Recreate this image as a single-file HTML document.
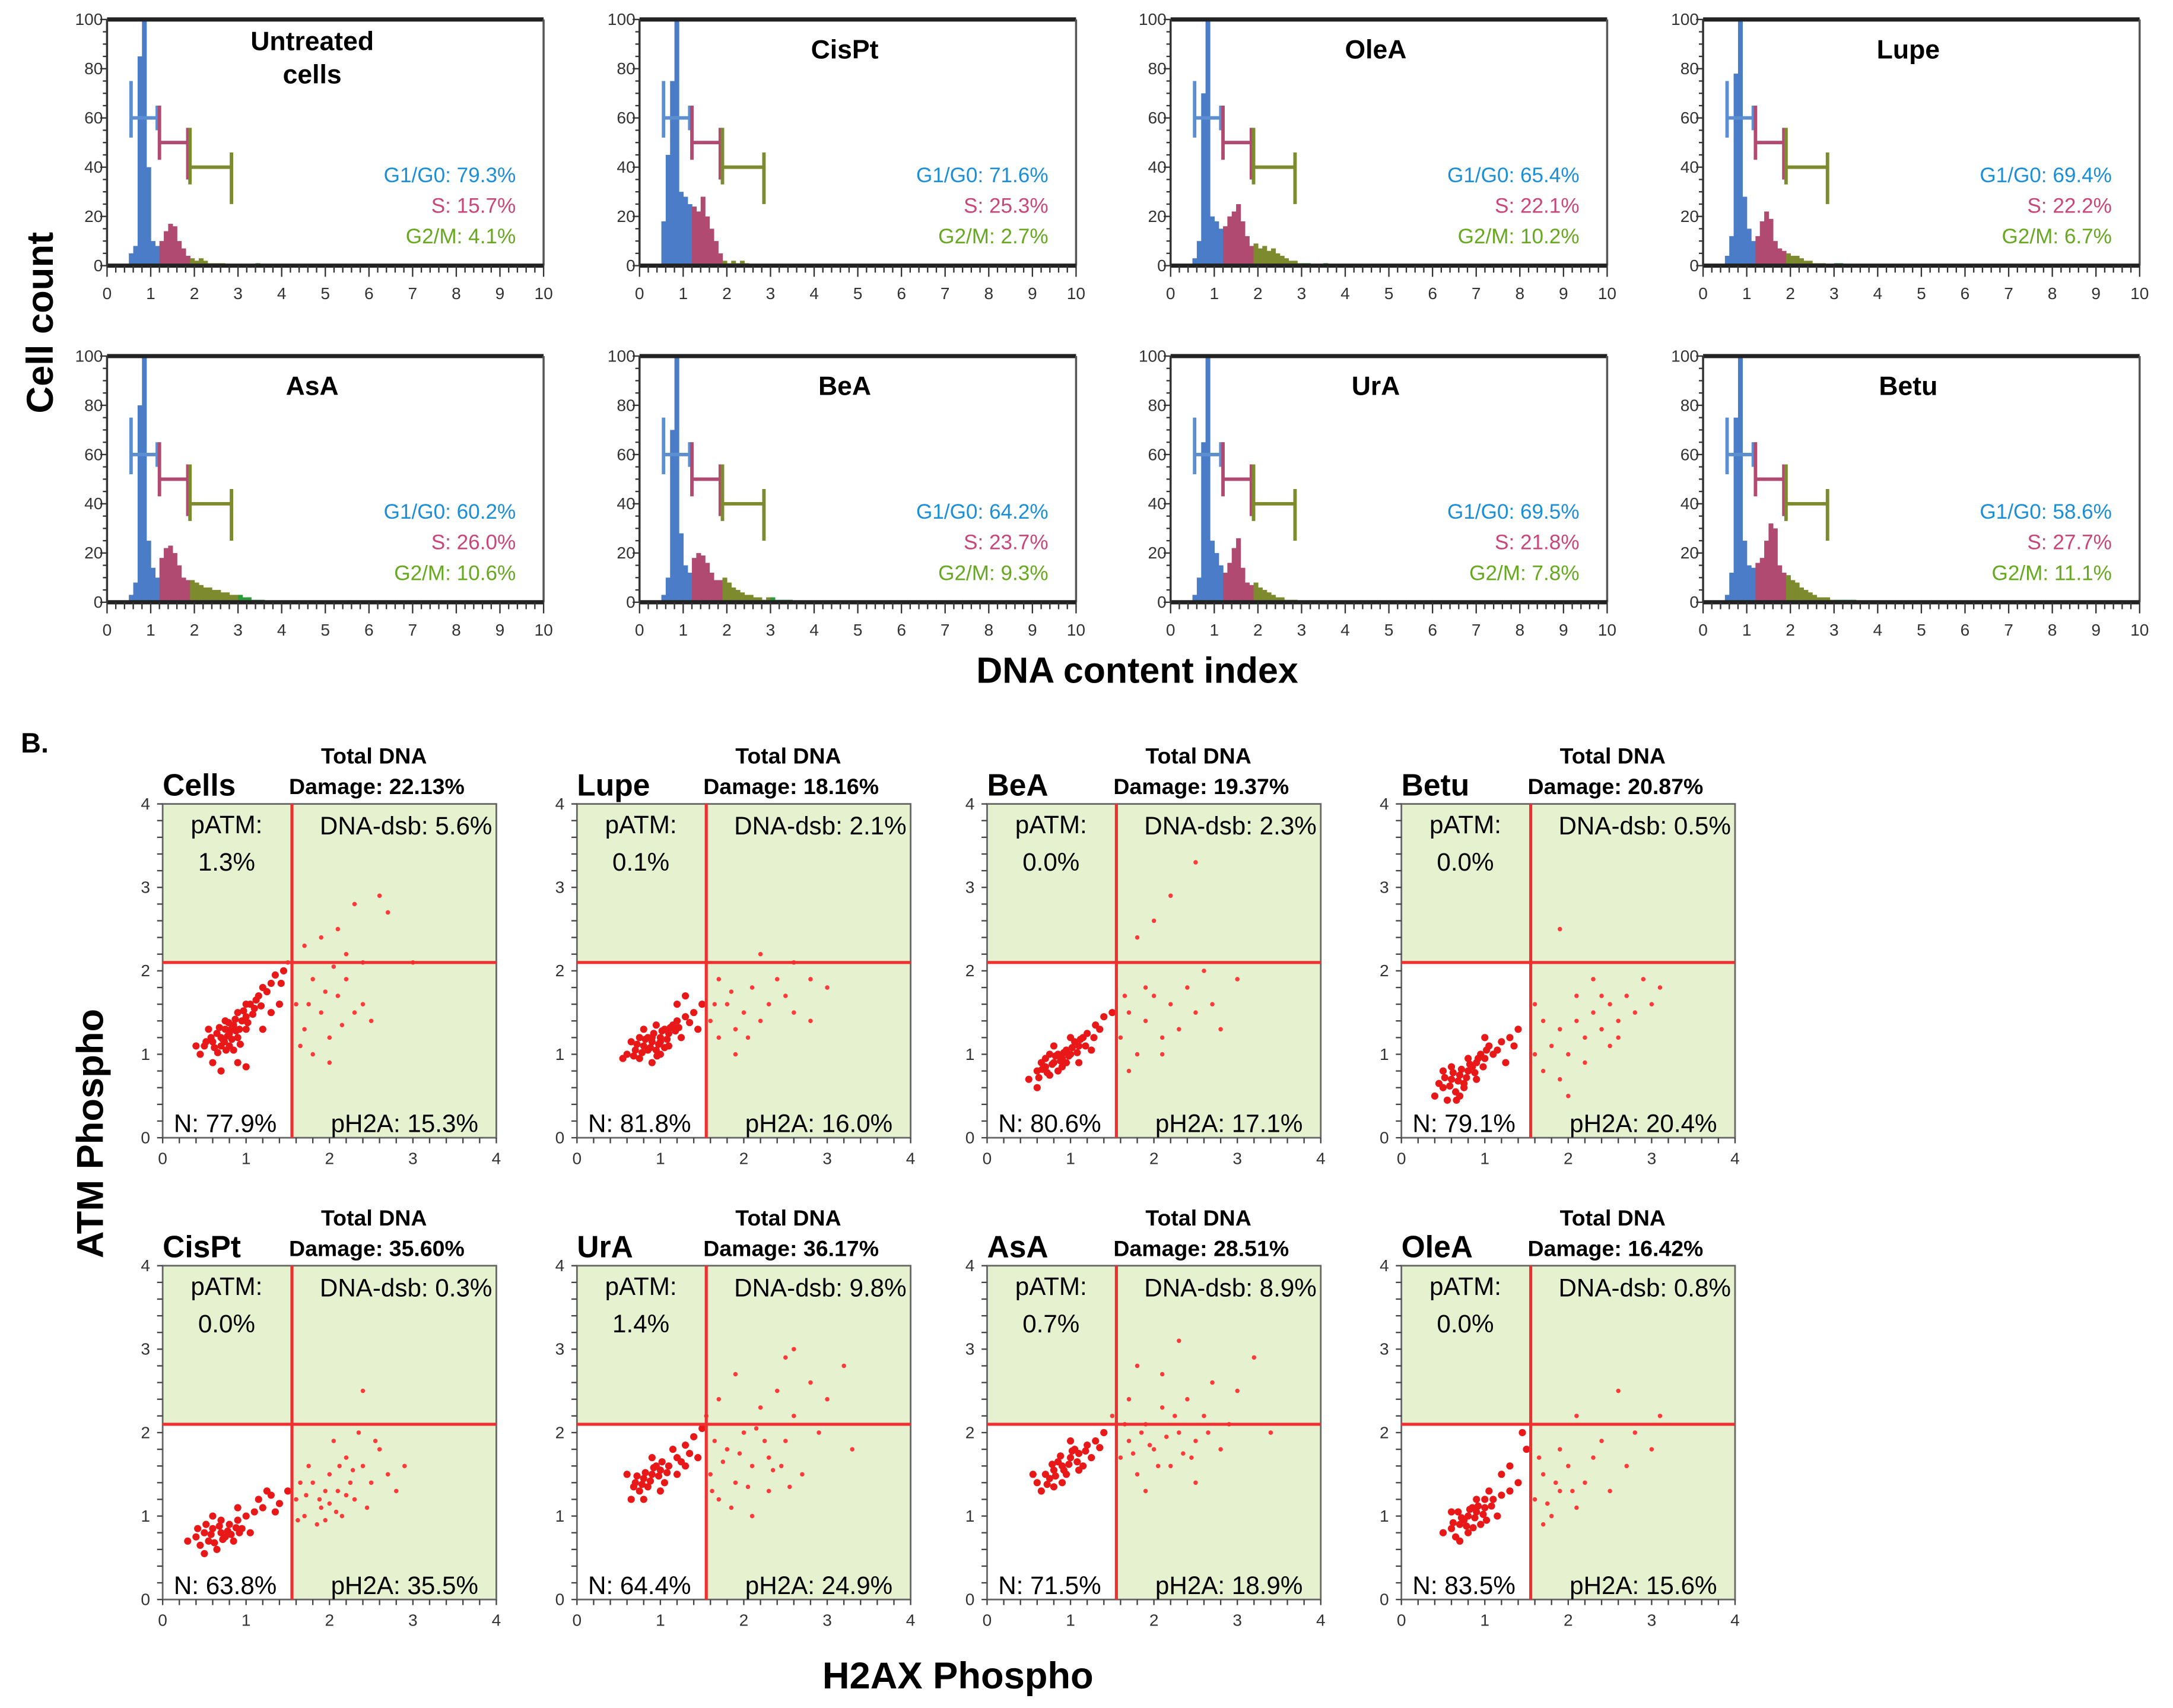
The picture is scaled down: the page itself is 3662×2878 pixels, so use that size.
<!DOCTYPE html>
<html><head><meta charset="utf-8"><style>
html,body{margin:0;padding:0;background:#fff}
svg{display:block}
text{font-family:"Liberation Sans",sans-serif}
.b{font-family:"Liberation Sans",sans-serif;font-weight:bold}
</style></head><body>
<svg id="fig" xmlns="http://www.w3.org/2000/svg" width="3662" height="2878" viewBox="0 0 1563 1228" preserveAspectRatio="none">
<text class="b" x="38" y="232" font-size="27" text-anchor="middle" transform="rotate(-90 38 232)">Cell count</text>
<text class="b" x="818" y="491" font-size="26" text-anchor="middle">DNA content index</text>
<text class="b" x="15" y="541" font-size="20">B.</text>
<text class="b" x="74" y="815" font-size="27" text-anchor="middle" transform="rotate(-90 74 815)">ATM Phospho</text>
<text class="b" x="689" y="1214" font-size="27" text-anchor="middle">H2AX Phospho</text>
<g id="hists"></g><g id="scat"></g>
</svg>
<script>
// ---------- Histogram data (bins start at 0.5, width 0.1) ----------
const histNames = ["Untreated cells","CisPt","OleA","Lupe","AsA","BeA","UrA","Betu"];
const histG1 = ["79.3%","71.6%","65.4%","69.4%","60.2%","64.2%","69.5%","58.6%"];
const histS = ["15.7%","25.3%","22.1%","22.2%","26.0%","23.7%","21.8%","27.7%"];
const histG2 = ["4.1%","2.7%","10.2%","6.7%","10.6%","9.3%","7.8%","11.1%"];
const countsUntreated = [5,8,85,100,40,10,8,10,14,17,16,10,7,4,3,2,3,2,1,1,1,1,0,0,0,0,0,0,0,1];
const countsCisPt = [18,45,75,100,30,28,25,24,22,28,20,15,10,5,2,1,2,1,2,1];
const countsOleA = [3,10,70,100,20,18,15,16,20,22,25,18,12,8,9,7,8,6,7,5,4,3,2,2,1,1,1,0,0,0,1];
const countsLupe = [4,12,78,100,28,15,10,12,18,22,19,10,7,6,5,4,4,3,2,2,1,1,1,0,0,1,1];
const countsAsA = [3,8,80,100,25,14,10,18,22,23,20,15,10,9,9,8,7,6,6,5,5,4,4,3,3,3,2,2,1,1,1];
const countsBeA = [3,10,70,100,28,15,12,18,20,19,16,12,9,9,10,8,6,5,4,3,3,2,2,1,2,2,1,1,1,1];
const countsUrA = [3,10,65,100,25,20,15,12,16,22,26,14,8,7,8,6,5,4,3,2,2,1,1,1];
const countsBetu = [3,12,75,100,25,15,14,16,18,25,32,30,15,12,11,9,8,6,5,4,3,2,2,2,1,1,1,1,1,1];
const histCounts = [countsUntreated,countsCisPt,countsOleA,countsLupe,countsAsA,countsBeA,countsUrA,countsBetu];
const xTicks = [0,1,2,3,4,5,6,7,8,9,10];
const yTicks = [0,20,40,60,80,100];

// ---------- Scatter data ----------
const scNames = ["Cells","Lupe","BeA","Betu","CisPt","UrA","AsA","OleA"];
const scTotal = ["22.13%","18.16%","19.37%","20.87%","35.60%","36.17%","28.51%","16.42%"];
const scPATM = ["1.3%","0.1%","0.0%","0.0%","0.0%","1.4%","0.7%","0.0%"];
const scDsb = ["5.6%","2.1%","2.3%","0.5%","0.3%","9.8%","8.9%","0.8%"];
const scN = ["77.9%","81.8%","80.6%","79.1%","63.8%","64.4%","71.5%","83.5%"];
const scPH2A = ["15.3%","16.0%","17.1%","20.4%","35.5%","24.9%","18.9%","15.6%"];
const ptsCells = "0.5,1.1 0.6,1.15 0.7,1.2 0.75,1.3 0.8,1.25 0.85,1.35 0.9,1.2 0.95,1.4 0.7,1.1 0.65,1.25 0.8,1.1 0.9,1.5 1.0,1.45 1.05,1.6 1.1,1.55 1.15,1.7 1.2,1.8 1.3,1.85 1.35,1.95 1.45,2.0 1.5,2.1 0.4,1.1 0.45,1.0 0.6,0.9 0.7,0.8 0.9,0.9 1.0,0.85 1.2,1.3 1.3,1.5 1.4,1.6 0.55,1.3 0.85,1.05 0.75,1.4 1.0,1.3 0.78,1.22 0.82,1.3 0.72,1.18 0.88,1.28 0.62,1.08 0.68,1.32 0.74,1.15 0.79,1.38 0.83,1.18 0.87,1.42 0.92,1.3 0.97,1.52 1.02,1.38 1.08,1.48 1.12,1.65 0.58,1.2 0.66,1.02 0.52,1.15 0.76,1.05 0.93,1.12 1.0,1.6 1.18,1.58 1.25,1.75 1.42,1.85 1.6,1.6 1.7,1.3 1.8,1.9 1.9,1.5 2.0,1.2 2.1,1.7 2.2,1.9 2.3,1.5 2.4,1.6 2.5,1.4 1.7,2.3 1.9,2.4 2.1,2.5 2.3,2.8 2.6,2.9 2.7,2.7 1.8,1.0 2.0,0.9 2.2,2.2 2.4,2.1 1.65,1.1 2.05,2.05 3.0,2.1 1.75,1.6 1.95,1.75 2.15,1.35";
const ptsLupe = "0.6,1.0 0.7,1.05 0.8,1.1 0.9,1.15 1.0,1.2 1.1,1.25 0.85,1.2 0.95,1.05 1.05,1.3 1.15,1.35 1.2,1.4 1.3,1.45 1.4,1.5 1.5,1.6 0.75,0.95 0.65,1.15 0.9,0.9 1.0,1.0 1.1,1.1 1.25,1.2 0.55,0.95 0.8,1.3 0.95,1.35 1.2,1.6 1.3,1.7 1.45,1.3 0.9,1.2 1.0,1.15 0.85,1.05 0.72,1.12 0.78,1.02 0.82,1.18 0.88,1.08 0.92,1.25 0.98,1.12 1.02,1.28 1.08,1.18 1.12,1.32 1.18,1.28 0.68,0.98 0.75,1.2 0.96,0.98 1.05,1.08 1.22,1.32 1.35,1.38 1.6,1.4 1.7,1.2 1.8,1.6 1.9,1.3 2.0,1.5 2.1,1.8 2.2,1.4 2.3,1.6 2.4,1.9 2.5,1.7 2.6,1.5 2.8,1.9 3.0,1.8 1.7,1.9 1.9,1.0 2.2,2.2 2.6,2.1 2.8,1.4 1.65,1.6 1.85,1.75 2.05,1.2";
const ptsBeA = "0.5,0.7 0.6,0.8 0.7,0.85 0.8,0.9 0.9,0.95 1.0,1.0 1.1,1.1 0.75,0.75 0.85,0.8 0.95,1.05 1.05,1.15 1.15,1.2 1.2,1.25 1.3,1.35 1.4,1.45 1.5,1.5 0.65,0.9 0.9,0.85 1.0,1.2 1.1,0.9 0.6,0.6 0.8,1.1 1.25,1.05 1.35,1.3 0.7,0.95 0.85,1.0 0.95,0.9 0.72,0.78 0.78,0.88 0.82,0.98 0.88,0.92 0.92,1.02 0.98,0.98 1.02,1.08 1.08,1.02 1.12,1.18 0.66,0.82 0.62,0.72 0.75,1.0 1.18,1.1 1.28,1.2 1.6,1.2 1.7,1.5 1.8,1.0 1.9,1.4 2.0,1.7 2.1,1.2 2.2,1.6 2.3,1.3 2.4,1.8 2.5,1.5 2.7,1.6 3.0,1.9 1.8,2.4 2.0,2.6 2.2,2.9 2.5,3.3 1.7,0.8 1.9,1.8 2.1,1.0 2.6,2.0 2.8,1.3 1.65,1.7";
const ptsBetu = "0.4,0.5 0.5,0.6 0.6,0.7 0.7,0.75 0.8,0.8 0.9,0.9 1.0,0.95 1.1,1.0 0.55,0.45 0.65,0.55 0.75,0.65 0.85,0.85 0.95,1.0 1.05,1.1 1.2,1.15 1.3,1.2 1.4,1.3 0.6,0.85 0.7,0.5 0.8,0.95 0.9,0.7 1.0,1.2 0.5,0.8 0.75,0.6 1.25,0.9 0.58,0.62 0.62,0.78 0.68,0.68 0.72,0.82 0.78,0.72 0.82,0.88 0.88,0.78 0.92,0.95 0.98,0.85 1.02,1.05 0.45,0.65 0.52,0.72 0.66,0.45 1.15,1.05 1.35,1.1 1.6,1.0 1.7,0.8 1.8,1.1 1.9,1.3 2.0,1.0 2.1,1.4 2.2,1.2 2.3,1.5 2.4,1.3 2.5,1.6 2.6,1.4 2.7,1.7 2.8,1.5 2.9,1.9 3.0,1.6 3.1,1.8 1.7,1.4 1.9,0.7 2.1,1.7 2.3,1.9 2.5,1.1 1.6,1.6 1.9,2.5 2.0,0.5 2.2,0.9 2.6,1.2 2.4,1.7";
const ptsCisPt = "0.3,0.7 0.4,0.75 0.5,0.8 0.6,0.85 0.7,0.8 0.8,0.9 0.9,0.95 1.0,1.0 1.1,1.05 1.2,1.1 0.45,0.65 0.55,0.7 0.65,0.6 0.75,0.75 0.85,0.7 0.95,0.85 1.05,0.8 1.15,1.2 1.3,1.25 1.4,1.15 0.6,1.0 0.7,0.95 0.5,0.55 0.9,1.1 0.58,0.78 0.62,0.68 0.68,0.88 0.72,0.72 0.78,0.82 0.82,0.78 0.88,0.86 0.92,0.8 0.52,0.9 0.42,0.85 1.25,1.3 1.35,1.05 1.6,1.2 1.7,1.0 1.8,1.4 1.9,1.1 2.0,1.5 2.1,1.3 2.2,1.7 2.3,1.2 2.4,1.6 2.5,1.4 2.6,1.8 2.7,1.5 2.8,1.3 1.75,1.6 1.85,0.9 1.95,1.3 2.05,1.9 2.15,1.0 2.25,1.4 2.35,2.0 2.45,1.1 1.65,1.4 2.0,1.15 2.2,1.25 2.4,2.5 1.5,1.3 2.9,1.6 1.72,1.25 1.88,1.2 2.08,1.05 2.28,1.55 2.12,1.6 1.95,0.95 2.55,1.9 1.62,0.95";
const ptsUrA = "0.7,1.4 0.8,1.45 0.9,1.5 1.0,1.55 1.1,1.6 1.2,1.7 0.75,1.3 0.85,1.35 0.95,1.6 1.05,1.4 1.15,1.8 1.3,1.85 1.4,1.95 1.5,2.05 0.6,1.5 0.8,1.2 1.0,1.3 1.2,1.5 0.9,1.7 1.3,1.6 0.65,1.2 0.78,1.38 0.82,1.52 0.88,1.42 0.92,1.58 0.98,1.48 1.02,1.65 1.08,1.52 0.72,1.48 0.68,1.35 1.25,1.65 1.35,1.75 1.45,1.7 1.6,1.5 1.7,1.2 1.8,1.8 1.9,1.4 2.0,2.0 2.1,1.6 2.2,2.3 2.3,1.7 2.4,2.5 2.5,1.9 2.6,2.2 2.7,1.5 2.8,2.6 2.9,2.0 3.0,2.4 3.2,2.8 1.7,2.4 1.9,2.7 2.1,1.0 2.3,1.3 2.5,2.9 1.65,1.9 1.85,1.1 2.05,1.35 2.25,1.9 2.45,1.6 2.6,3.0 1.55,2.2 3.3,1.8 1.75,1.65 1.95,1.75 2.15,2.05 2.35,1.55 1.62,1.3 2.55,1.35";
const ptsAsA = "0.6,1.4 0.7,1.5 0.8,1.55 0.9,1.6 1.0,1.7 1.1,1.75 1.2,1.85 1.3,1.9 1.4,2.0 0.75,1.45 0.85,1.65 0.95,1.5 1.05,1.8 1.15,1.6 0.65,1.3 0.9,1.4 1.0,1.9 1.25,1.7 0.8,1.35 1.1,1.55 0.55,1.5 0.78,1.62 0.82,1.48 0.88,1.72 0.92,1.55 0.98,1.62 1.02,1.78 1.08,1.65 0.72,1.38 1.18,1.78 1.35,1.82 1.6,1.7 1.7,1.9 1.8,1.5 1.9,2.1 2.0,1.8 2.1,2.3 2.2,1.6 2.3,2.0 2.4,2.4 2.5,1.9 2.6,2.2 2.7,2.6 2.8,1.8 2.9,2.1 3.0,2.5 3.2,2.9 1.7,2.4 1.9,1.3 2.1,2.7 2.3,3.1 2.5,1.4 1.65,2.1 1.85,2.0 2.05,1.6 2.25,2.2 2.45,1.7 3.4,2.0 1.5,2.2 1.8,2.8 1.75,1.75 1.95,1.85 2.15,1.95 2.35,1.75 2.65,2.0";
const ptsOleA = "0.5,0.8 0.6,0.85 0.7,0.9 0.8,1.0 0.9,1.05 1.0,1.1 1.1,1.2 1.2,1.25 1.3,1.3 1.4,1.4 0.65,0.75 0.75,0.95 0.85,1.1 0.95,0.9 1.05,1.3 1.15,1.0 0.6,1.05 0.8,0.8 1.0,1.2 1.2,1.5 1.3,1.6 0.7,0.7 0.9,1.2 1.5,1.8 1.45,2.0 0.72,0.98 0.78,0.88 0.82,1.08 0.88,0.98 0.92,1.12 0.98,1.02 1.02,0.95 1.08,1.12 0.68,1.05 0.62,0.92 0.86,0.86 1.6,1.2 1.7,1.5 1.8,1.0 1.9,1.3 2.0,1.6 2.1,1.1 2.2,1.4 2.3,1.7 2.4,1.9 2.5,1.3 2.7,1.6 2.8,2.0 3.0,1.8 1.7,0.9 1.9,1.8 2.1,2.2 2.6,2.5 3.1,2.2 1.65,1.7 1.85,1.4 1.75,1.15 2.05,1.3";
const scPts = [ptsCells,ptsLupe,ptsBeA,ptsBetu,ptsCisPt,ptsUrA,ptsAsA,ptsOleA];
const scTicks = [0,1,2,3,4];
const quadX = 1.55, quadY = 2.1;

const NS = "http://www.w3.org/2000/svg";
function mk(tag, attrs, parent, txt){const e=document.createElementNS(NS,tag);for(const k in attrs)e.setAttribute(k,attrs[k]);if(txt!==undefined)e.textContent=txt;parent.appendChild(e);return e;}

// ---------- Histograms ----------
const hLeft=[77,460,842,1225], hTop=[14,256], hW=314, hH=177;
const H=document.getElementById('hists');
histNames.forEach((name,i)=>{
  const col=i%4,row=Math.floor(i/4);
  const x0=hLeft[col], y0=hTop[row];
  const g=mk('g',{},H);
  
  
  const sx=v=>x0+v/10*hW, sy=v=>y0+hH-v/100*hH;
  const counts=histCounts[i];
  counts.forEach((c,k)=>{
    const xv=0.5+k*0.1;
    const colr = xv<1.15?'#4a7cc7':(xv<1.85?'#b04a70':(xv<2.95?'#7d8a2e':'#2a9a3a'));
    const r=mk('rect',{x:sx(xv),y:sy(c),width:sx(xv+0.1)-sx(xv)+0.3,height:sy(0)-sy(c),fill:colr},g);
    
    
  });
  mk('line',{x1:x0,y1:y0,x2:x0+hW,y2:y0,stroke:'#222','stroke-width':3},g);
  mk('line',{x1:x0+hW,y1:y0,x2:x0+hW,y2:y0+hH,stroke:'#555','stroke-width':1.5},g);
  mk('line',{x1:x0,y1:y0+hH,x2:x0+hW,y2:y0+hH,stroke:'#222','stroke-width':3},g);
  mk('line',{x1:x0,y1:y0,x2:x0,y2:y0+hH,stroke:'#333','stroke-width':1.5},g);
  for(let v=0;v<=10.001;v+=0.2){mk('line',{x1:sx(v),y1:y0+hH,x2:sx(v),y2:y0+hH+(Math.abs(v-Math.round(v))<0.01?8:5),stroke:'#333','stroke-width':1},g);}
  for(let v=0;v<=100;v+=5){mk('line',{x1:x0-(v%20==0?5:3),y1:sy(v),x2:x0,y2:sy(v),stroke:'#333','stroke-width':1},g);}
  xTicks.forEach(t=>{const e=mk('text',{x:sx(t),y:y0+hH+24,'font-size':12,'text-anchor':'middle',fill:'#333'},g,String(t));});
  yTicks.forEach(t=>{const e=mk('text',{x:x0-3,y:sy(t)+4,'font-size':12,'text-anchor':'end',fill:'#333'},g,String(t));});
  const gate=(a,b,y,c,la,lb,ra,rb)=>{mk('line',{x1:sx(a),y1:sy(y),x2:sx(b),y2:sy(y),stroke:c,'stroke-width':2.5},g);mk('line',{x1:sx(a),y1:sy(la),x2:sx(a),y2:sy(lb),stroke:c,'stroke-width':2.5},g);mk('line',{x1:sx(b),y1:sy(ra),x2:sx(b),y2:sy(rb),stroke:c,'stroke-width':2.5},g);};
  gate(0.55,1.15,60,'#5b8fd0',52,75,55,65);
  gate(1.2,1.85,50,'#b04a70',43,65,35,56);
  gate(1.9,2.85,40,'#7d8a2e',33,56,25,46);
  const cx=x0+hW*0.47;
  if(name==='Untreated cells'){
    const t1=mk('text',{x:cx,y:y0+22,'font-size':19,'text-anchor':'middle',class:'b'},g,'Untreated');
    
    mk('text',{x:cx,y:y0+46,'font-size':19,'text-anchor':'middle',class:'b'},g,'cells');
  } else {
    const t=mk('text',{x:cx,y:y0+28,'font-size':19,'text-anchor':'middle',class:'b'},g,name);
    
  }
  const rx=x0+hW-20;
  const a=mk('text',{x:rx,y:y0+117,'font-size':15,'text-anchor':'end',fill:'#1a8fd8'},g,'G1/G0: '+histG1[i]);
  const b=mk('text',{x:rx,y:y0+139,'font-size':15,'text-anchor':'end',fill:'#c8467a'},g,'S: '+histS[i]);
  const c=mk('text',{x:rx,y:y0+161,'font-size':15,'text-anchor':'end',fill:'#66a81e'},g,'G2/M: '+histG2[i]);
});

// ---------- Scatter plots ----------
const sLeft=[117,415,710,1008], sTop=[578,910], S=240;
const SC=document.getElementById('scat');
scNames.forEach((name,i)=>{
  const col=i%4,row=Math.floor(i/4);
  const x0=sLeft[col], y0=sTop[row];
  const g=mk('g',{},SC);
  
  
  const sx=v=>x0+v/4*S, sy=v=>y0+S-v/4*S;
  mk('rect',{x:x0,y:y0,width:S,height:S,fill:'#e6f2cf'},g);
  mk('rect',{x:x0,y:sy(quadY),width:sx(quadX)-x0,height:sy(0)-sy(quadY),fill:'#ffffff'},g);
  scPts[i].trim().split(/\s+/).forEach(p=>{
    const [a,b]=p.split(',').map(Number);
    const inCore = a<quadX && b<quadY;
    const d=mk('circle',{cx:sx(a),cy:sy(b),r:inCore?2.6:1.6,fill:inCore?'#e81818':'#ff3a3a'},g);
    
    
  });
  mk('rect',{x:x0,y:y0,width:S,height:S,fill:'none',stroke:'#666','stroke-width':1.2},g);
  mk('line',{x1:sx(quadX),y1:y0,x2:sx(quadX),y2:y0+S,stroke:'#f03030','stroke-width':2.2},g);
  mk('line',{x1:x0,y1:sy(quadY),x2:x0+S,y2:sy(quadY),stroke:'#f03030','stroke-width':2.2},g);
  for(let v=0;v<=4.001;v+=0.2){mk('line',{x1:sx(v),y1:y0+S,x2:sx(v),y2:y0+S+4,stroke:'#444','stroke-width':1},g);mk('line',{x1:x0-4,y1:sy(v),x2:x0,y2:sy(v),stroke:'#444','stroke-width':1},g);}
  scTicks.forEach(t=>{
    const e=mk('text',{x:sx(t),y:y0+S+19,'font-size':12,'text-anchor':'middle',fill:'#333'},g,String(t));
    const f=mk('text',{x:x0-9,y:sy(t)+4,'font-size':12,'text-anchor':'end',fill:'#333'},g,String(t));
  });
  const t=mk('text',{x:x0,y:y0-6,'font-size':22,class:'b'},g,name);
  const t1=mk('text',{x:x0+152,y:y0-29,'font-size':16,'text-anchor':'middle',class:'b'},g,'Total DNA');
  const t2=mk('text',{x:x0+154,y:y0-7,'font-size':16,'text-anchor':'middle',class:'b'},g,'Damage: '+scTotal[i]);
  const q1=mk('text',{x:x0+46,y:y0+21,'font-size':18,'text-anchor':'middle'},g,'pATM:');
  const q2=mk('text',{x:x0+46,y:y0+48,'font-size':18,'text-anchor':'middle'},g,scPATM[i]);
  const q3=mk('text',{x:x0+S-3,y:y0+22,'font-size':18,'text-anchor':'end'},g,'DNA-dsb: '+scDsb[i]);
  const q4=mk('text',{x:x0+8,y:y0+S-4,'font-size':18},g,'N: '+scN[i]);
  const q5=mk('text',{x:x0+S-13,y:y0+S-4,'font-size':18,'text-anchor':'end'},g,'pH2A: '+scPH2A[i]);
});
</script>
</body></html>
